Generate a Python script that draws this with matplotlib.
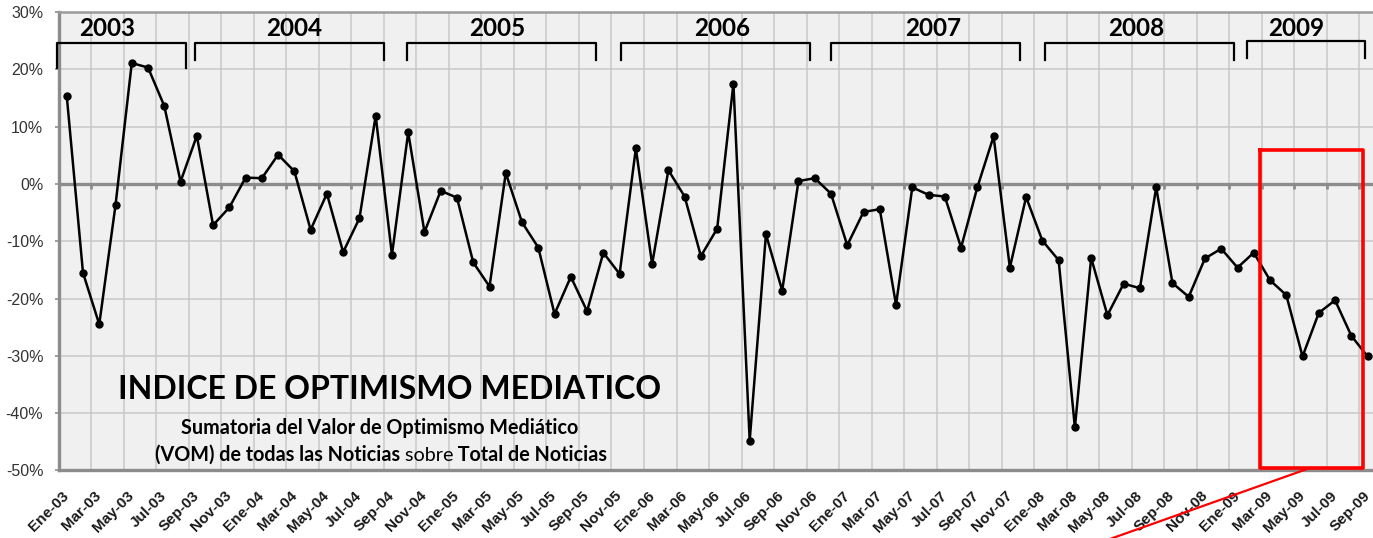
import matplotlib.pyplot as plt
import numpy as np
from matplotlib.transforms import ScaledTranslation

MESES = ["Ene", "Feb", "Mar", "Abr", "May", "Jun",
         "Jul", "Ago", "Sep", "Oct", "Nov", "Dic"]
periodos = [f"{m}-{a:02d}" for a in range(3, 10) for m in MESES][:81]

# indice de optimismo mediatico (%), Ene-03 .. Sep-09
vom = [
    15.4, -15.5, -24.5, -3.7, 21.1, 20.3, 13.6, 0.4, 8.4, -7.2, -4.1, 1.1,       # 2003
    1.0, 5.1, 2.2, -8.0, -1.7, -11.9, -6.0, 11.9, -12.4, 9.0, -8.4, -1.2,       # 2004
    -2.4, -13.7, -17.9, 1.9, -6.7, -11.1, -22.7, -16.2, -22.2, -12.0, -15.7, 6.2,  # 2005
    -14.0, 2.4, -2.2, -12.6, -7.8, 17.5, -44.8, -8.8, -18.6, 0.5, 1.0, -1.7,    # 2006
    -10.7, -4.9, -4.4, -21.1, -0.6, -1.9, -2.2, -11.1, -0.6, 8.3, -14.6, -2.3,  # 2007
    -9.9, -13.3, -42.5, -12.9, -22.9, -17.4, -18.2, -0.6, -17.3, -19.7, -13.0, -11.3,  # 2008
    -14.6, -12.0, -16.8, -19.4, -30.1, -22.5, -20.3, -26.5, -30.1,               # 2009
]

anios = ["2003", "2004", "2005", "2006", "2007", "2008", "2009"]

# year brackets drawn over the chart: (left, right, label x) in month units
corchetes = [(-0.62, 7.32, 2.5), (7.89, 19.51, 14.0), (20.95, 32.55, 26.5),
             (34.11, 45.71, 40.3), (47.02, 58.63, 53.3), (60.16, 71.78, 65.8),
             (72.61, 79.87, 75.6)]

GRIS = "#8c8c8c"
GRID = "#c8c8c8"
TXT = ["Lato", "DejaVu Sans"]

fig = plt.figure(figsize=(13.73, 5.38), dpi=100)
fig.patch.set_facecolor("white")
ax = fig.add_axes([0.04268, 0.1255, 0.9593, 0.8522])
ax.set_facecolor("#f0f0f0")

x = np.arange(len(vom))
ax.set_xlim(-0.5, len(vom) - 0.5)
ax.set_ylim(-50, 30)

# grid
ax.set_yticks(np.arange(-50, 31, 10))
ax.set_yticklabels([f"{v}%" for v in range(-50, 31, 10)])
ax.set_xticks(x[::2])
ax.set_xticklabels(periodos[::2])
bordes = np.arange(1.5, len(vom), 2)
ax.set_xticks(bordes, minor=True)
ax.grid(axis="y", which="major", color=GRID, lw=1.1, zorder=0)
ax.grid(axis="x", which="minor", color=GRID, lw=1.1, zorder=0)
ax.set_axisbelow(True)

ax.tick_params(axis="x", which="both", length=0, pad=13)
ax.tick_params(axis="y", length=3, width=1.2, color=GRIS, pad=8,
               labelsize=11.5, labelcolor="#333333")
for lab in ax.get_yticklabels():
    lab.set_fontfamily("Liberation Sans")
off = ScaledTranslation(5 / 100, 0, fig.dpi_scale_trans)
for lab in ax.get_xticklabels():
    lab.set_fontfamily("Liberation Sans")
    lab.set_fontweight("bold")
    lab.set_fontsize(11)
    lab.set_color("#1a1a1a")
    lab.set_rotation(45)
    lab.set_ha("right")
    lab.set_va("top")
    lab.set_transform(lab.get_transform() + off)

for side in ["left", "bottom"]:
    ax.spines[side].set_color(GRIS)
    ax.spines[side].set_linewidth(2.4)
ax.spines["top"].set_color("#9a9a9a")
ax.spines["top"].set_linewidth(1.8)
ax.spines["right"].set_visible(False)

# zero line with its little ticks
ax.axhline(0, color=GRIS, lw=2.4, zorder=2)
ax.vlines(bordes, -0.9, 0, color=GRIS, lw=2.0, zorder=2)

ax.plot(x, vom, color="black", lw=1.8, marker="o", ms=5, zorder=4)

# year brackets
for anio, (a, b, cx) in zip(anios, corchetes):
    top = 25.0 if anio == "2009" else 24.66
    low = 22.0 if anio == "2009" else 21.6
    lowl = 20.25 if anio == "2003" else low
    lowr = 20.25 if anio == "2003" else low
    ax.plot([a, a, b, b], [lowl, top, top, lowr], color="black", lw=1.6,
            solid_joinstyle="round", clip_on=False, zorder=5)
    ax.text(cx, 27.05, anio, ha="center", va="center", fontsize=17.5,
            fontweight="bold", family=TXT, zorder=5)

# title block
ax.text(19.88, -35.8, "INDICE DE OPTIMISMO MEDIATICO", ha="center", va="center",
        fontsize=23, fontweight="bold", family=TXT, zorder=5)
ax.text(19.27, -42.6, "Sumatoria del Valor de Optimismo Mediático", ha="center",
        va="center", fontsize=14.2, fontweight="bold", family=TXT, zorder=5)

# second line mixes bold and regular: lay the pieces on one baseline
partes = [("(VOM) de todas las Noticias", "bold"), (" sobre", "normal"),
          (" Total de Noticias", "bold")]
trozos = [ax.text(19.33, -48.3, s, ha="left", va="baseline", fontsize=14.2,
                  fontweight=w, family=TXT, zorder=5) for s, w in partes]
fig.canvas.draw()
r = fig.canvas.get_renderer()
anchos = [t.get_window_extent(r).width for t in trozos]
cx_pix, y_pix = ax.transData.transform((19.33, -48.3))
pos = cx_pix - sum(anchos) / 2
for t, w in zip(trozos, anchos):
    t.set_x(ax.transData.inverted().transform((pos, y_pix))[0])
    pos += w

# highlight of the last months
ax.plot([73.39, 79.74, 79.74, 73.39, 73.39], [5.93, 5.93, -49.5, -49.5, 5.93],
        color="red", lw=2.6, zorder=6, clip_on=False)
ax.plot([76.46, 63.12], [-49.56, -63.0], color="red", lw=1.6, zorder=6,
        clip_on=False)

fig.savefig("out.png", dpi=100)
